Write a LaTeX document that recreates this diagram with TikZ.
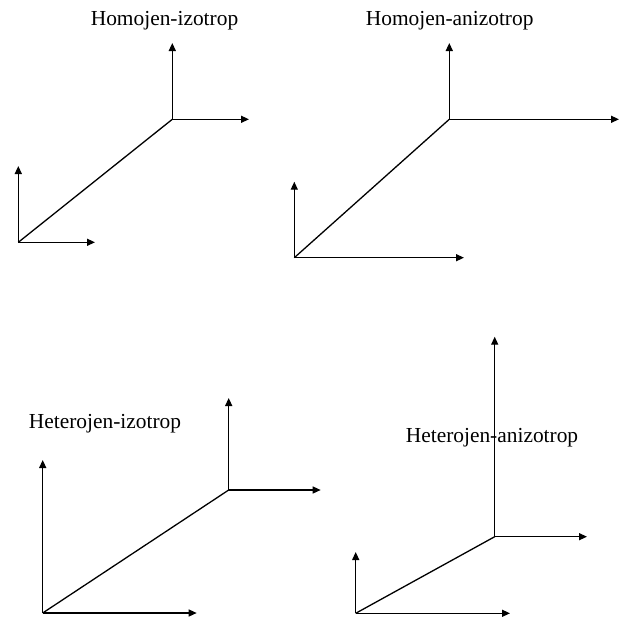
\documentclass[tikz,border=0pt]{standalone}
\usepackage{fontspec}
\setmainfont{Liberation Serif}
\usetikzlibrary{arrows.meta}

\begin{document}
\begin{tikzpicture}[x=1pt,y=-1pt,>={Triangle[length=8pt,width=7pt]},
  axis/.style={->,line width=1.3pt},
  leg/.style={line width=1.3pt},
  lbl/.style={inner sep=0pt,font=\fontsize{21.4}{25}\selectfont}]

\useasboundingbox (0,0) rectangle (624,621);

% Homojen-izotrop
\node[lbl] (homiz) at (164.5,21) {Homojen-izotrop};
\coordinate (oA) at (18.3,242.3);
\coordinate (oAup) at (18.3,166);
\coordinate (oArt) at (95,242.3);
\coordinate (vA) at (172.3,119.3);
\coordinate (vAup) at (172.3,43);
\coordinate (vArt) at (249,119.3);
\draw[axis] (oA) -- (oAup);
\draw[axis] (oA) -- (oArt);
\draw[leg] (oA) -- (vA);
\draw[axis] (vA) -- (vAup);
\draw[axis] (vA) -- (vArt);

% Homojen-anizotrop
\node[lbl] (homaniz) at (449.7,21) {Homojen-anizotrop};
\coordinate (oB) at (294.3,257.7);
\coordinate (oBup) at (294.3,181.7);
\coordinate (oBrt) at (464,257.7);
\coordinate (vB) at (449.3,119.3);
\coordinate (vBup) at (449.3,43);
\coordinate (vBrt) at (619,119.3);
\draw[axis] (oB) -- (oBup);
\draw[axis] (oB) -- (oBrt);
\draw[leg] (oB) -- (vB);
\draw[axis] (vB) -- (vBup);
\draw[axis] (vB) -- (vBrt);

% Heterojen-izotrop
\node[lbl] (hetiz) at (105,424) {Heterojen-izotrop};
\coordinate (oC) at (42.7,613);
\coordinate (oCup) at (42.7,460);
\coordinate (oCrt) at (196.7,613);
\coordinate (vC) at (228.7,490);
\coordinate (vCup) at (228.7,398);
\coordinate (vCrt) at (320.7,490);
\draw[axis] (oC) -- (oCup);
\draw[axis] (oC) -- (oCrt);
\draw[leg] (oC) -- (vC);
\draw[axis] (vC) -- (vCup);
\draw[axis] (vC) -- (vCrt);

% Heterojen-anizotrop
\coordinate (oD) at (355.7,613.3);
\coordinate (oDup) at (355.7,552);
\coordinate (oDrt) at (510,613.3);
\coordinate (vD) at (494.7,536.7);
\coordinate (vDup) at (494.7,336.7);
\coordinate (vDrt) at (587,536.7);
\draw[axis] (oD) -- (oDup);
\draw[axis] (oD) -- (oDrt);
\draw[leg] (oD) -- (vD);
\draw[axis] (vD) -- (vDup);
\draw[axis] (vD) -- (vDrt);
\node[lbl] (hetaniz) at (492,438) {Heterojen-anizotrop};

\end{tikzpicture}
\end{document}
